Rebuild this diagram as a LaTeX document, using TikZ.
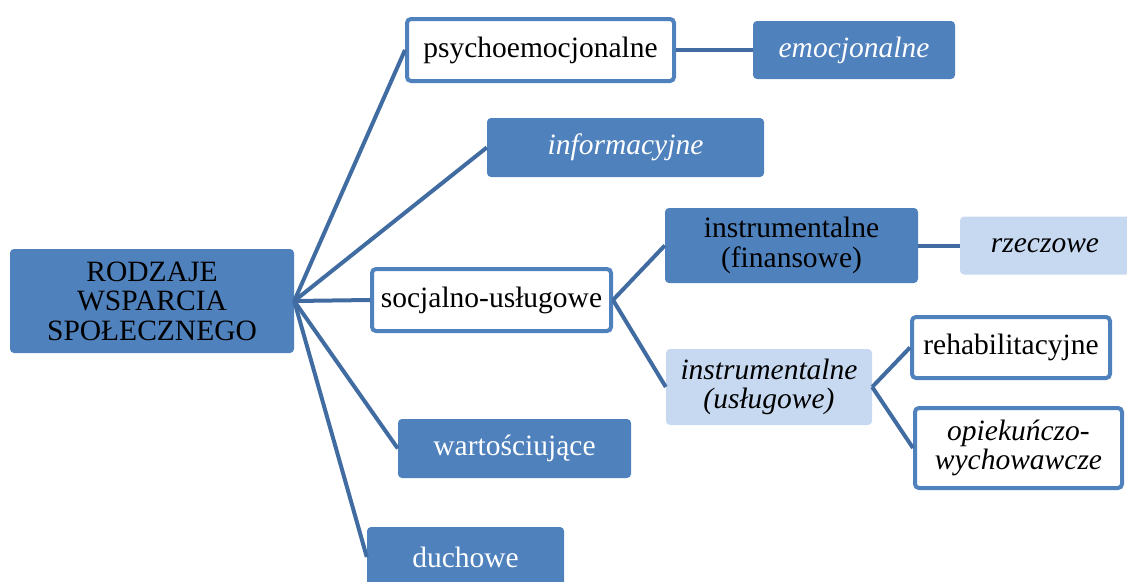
\documentclass[tikz,border=0pt]{standalone}
\usepackage{fontspec}
\setmainfont{Liberation Serif}
\definecolor{boxblue}{RGB}{79,129,189}
\definecolor{boxlight}{RGB}{198,217,241}
\definecolor{linkblue}{RGB}{65,108,162}
\begin{document}
\begin{tikzpicture}[x=1pt,y=-1pt,
  font=\fontsize{29.5}{29.5}\selectfont,
  base/.style={rounded corners=4pt, inner sep=0pt, align=center},
  darkbox/.style={base, fill=boxblue, text=white},
  rootbox/.style={base, fill=boxblue, text=black},
  finbox/.style={base, fill=boxblue, text=black},
  lightbox/.style={base, fill=boxlight, text=black},
  openbox/.style={base, fill=white, draw=boxblue, line width=4pt, text=black},
  link/.style={draw=linkblue, line width=4pt}]
\useasboundingbox (0,0) rectangle (1127,581);

\node[rootbox, minimum width=284pt, minimum height=104pt] (root) at (152,301)
  {RODZAJE\\WSPARCIA\\SPOŁECZNEGO};

\node[openbox, minimum width=267pt, minimum height=62pt] (psy) at (540.5,50) {psychoemocjonalne};
\node[darkbox, minimum width=202pt, minimum height=58pt] (emo) at (854,50) {\itshape emocjonalne};
\node[darkbox, minimum width=277pt, minimum height=59pt] (info) at (625.5,147.5) {\itshape informacyjne};
\node[openbox, minimum width=239pt, minimum height=62pt] (soc) at (491.5,300) {socjalno-usługowe};
\node[finbox, minimum width=253pt, minimum height=75pt] (fin) at (791.5,245.5) {instrumentalne\\(finansowe)};
\node[lightbox, minimum width=170pt, minimum height=58pt] (rze) at (1045,245.5) {\itshape rzeczowe};
\node[lightbox, minimum width=206pt, minimum height=76pt] (usl) at (769,387) {\itshape instrumentalne\\\itshape (usługowe)};
\node[openbox, minimum width=198pt, minimum height=61pt] (reh) at (1011,347.5) {rehabilitacyjne};
\node[openbox, minimum width=207pt, minimum height=80pt] (opi) at (1018.5,448) {\itshape opiekuńczo-\\\itshape wychowawcze};
\node[darkbox, minimum width=233pt, minimum height=59pt] (war) at (514.5,448.5) {wartościujące};
\node[darkbox, minimum width=197pt, minimum height=60pt] (duc) at (465.5,557) {duchowe};

% branches from the root
\foreach \t in {psy,info,soc,war,duc}
  \path[link] (root.east) -- (\t.west);

% second and third level branches
\path[link] (psy.east) -- (emo.west);
\path[link] (soc.east) -- (fin.west);
\path[link] (soc.east) -- (usl.west);
\path[link] (fin.east) -- (rze.west);
\path[link] (usl.east) -- (reh.west);
\path[link] (usl.east) -- (opi.west);
\end{tikzpicture}
\end{document}
